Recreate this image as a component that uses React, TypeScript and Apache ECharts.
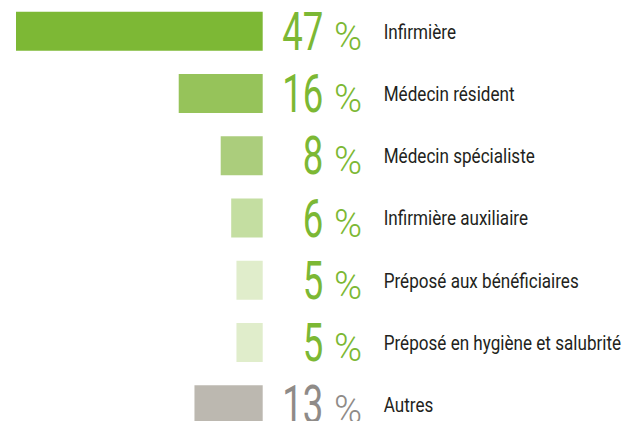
import React, { useEffect, useRef } from "react";
import * as echarts from "echarts";

const categories = [
  "Infirmière",
  "Médecin résident",
  "Médecin spécialiste",
  "Infirmière auxiliaire",
  "Préposé aux bénéficiaires",
  "Préposé en hygiène et salubrité",
  "Autres",
];
const values = [47, 16, 8, 6, 5, 5, 13];
const barColors = ["#7db835", "#96c35a", "#abcd7c", "#c4dea1", "#e0edcb", "#e0edcb", "#bcb8b0"];
const labelColors = ["#7cb834", "#7cb834", "#7cb834", "#7cb834", "#7cb834", "#7cb834", "#8f8b88"];

const FONT = "Roboto, 'Liberation Sans', sans-serif";

export default function App() {
  const ref = useRef<HTMLDivElement>(null);
  useEffect(() => {
    if (!ref.current) return;
    const chart = echarts.init(ref.current, undefined, { renderer: "svg" });
    chart.setOption({
      animation: false,
      grid: { left: 16, right: 373.3, top: 0, bottom: -15, outerBoundsMode: "none" },
      xAxis: { type: "value", inverse: true, min: 0, max: 47, show: false },
      yAxis: { type: "category", data: categories, inverse: true, show: false },
      series: [
        {
          type: "bar",
          barWidth: 39,
          data: values.map((v, i) => ({ value: v, itemStyle: { color: barColors[i] } })),
        },
        {
          type: "custom",
          clip: false,
          silent: true,
          data: values.map((v, i) => [v, i]),
          encode: { x: 0, y: 1 },
          renderItem: (params: any, api: any) => {
            const i = params.dataIndex;
            const p = api.coord([0, i]);
            return {
              type: "group",
              children: [
                {
                  type: "text",
                  x: p[0] + 60.6,
                  y: p[1] + 0.5,
                  scaleX: 0.69,
                  style: {
                    text: String(values[i]),
                    fontSize: 53,
                    fontWeight: 400,
                    fontFamily: FONT,
                    fill: labelColors[i],
                    align: "right",
                    verticalAlign: "middle",
                  },
                },
                {
                  type: "text",
                  x: p[0] + 99.5,
                  y: p[1] + 5.5,
                  scaleX: 1.0,
                  style: {
                    text: "%",
                    fontSize: 38,
                    fontWeight: 300,
                    fontFamily: FONT,
                    fill: labelColors[i],
                    align: "right",
                    verticalAlign: "middle",
                  },
                },
                {
                  type: "text",
                  x: p[0] + 121,
                  y: p[1] + 1,
                  scaleX: 0.855,
                  style: {
                    text: categories[i],
                    fontSize: 20,
                    fontFamily: FONT,
                    fill: "#231f20",
                    align: "left",
                    verticalAlign: "middle",
                  },
                },
              ],
            };
          },
        },
      ],
    });
    return () => chart.dispose();
  }, []);
  return (
    <div
      ref={ref}
      style={{ position: "fixed", left: 0, top: 0, width: 636, height: 421, background: "#fff" }}
    />
  );
}
